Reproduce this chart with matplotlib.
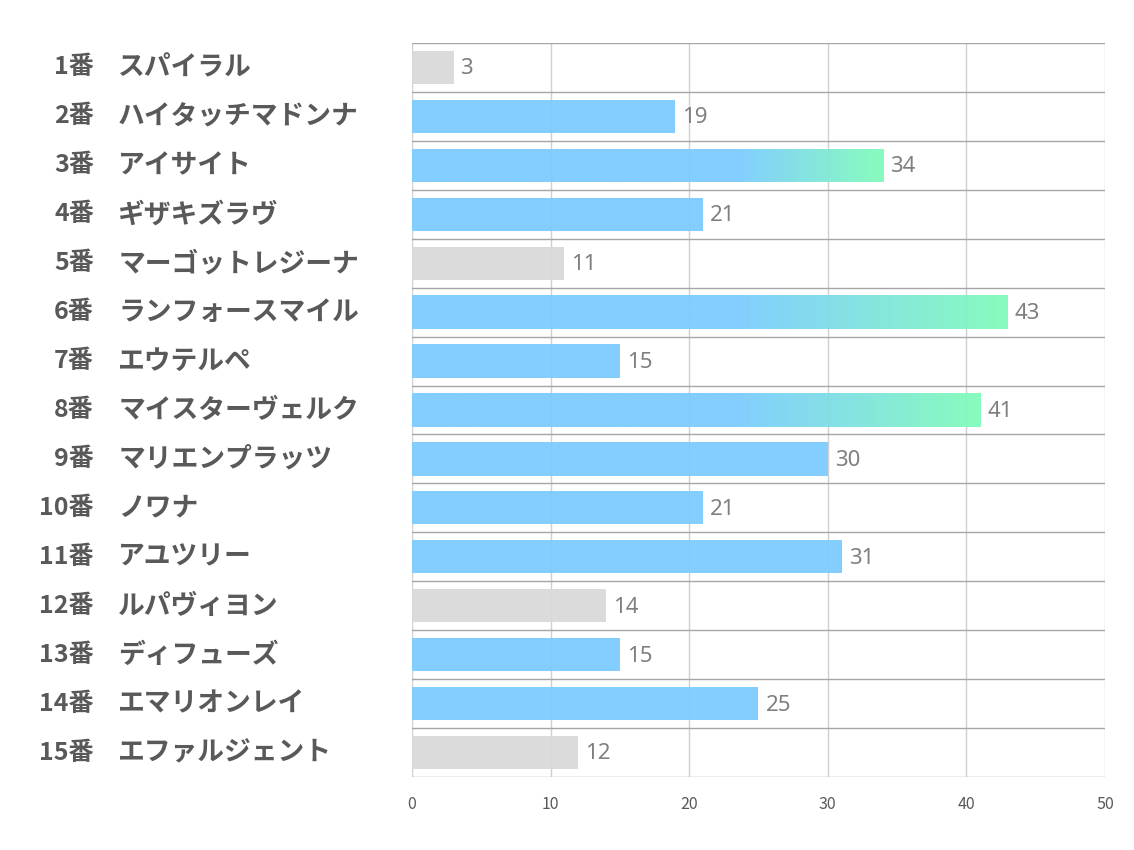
import numpy as np
import matplotlib.pyplot as plt
from matplotlib.colors import LinearSegmentedColormap

plt.rcParams['font.family'] = ['Noto Sans CJK JP', 'DejaVu Sans']

numbers = ['1番', '2番', '3番', '4番', '5番', '6番', '7番', '8番',
           '9番', '10番', '11番', '12番', '13番', '14番', '15番']
names = ['スパイラル', 'ハイタッチマドンナ', 'アイサイト', 'ギザキズラヴ',
         'マーゴットレジーナ', 'ランフォースマイル', 'エウテルペ', 'マイスターヴェルク',
         'マリエンプラッツ', 'ノワナ', 'アユツリー', 'ルパヴィヨン',
         'ディフューズ', 'エマリオンレイ', 'エファルジェント']
values = [3, 19, 34, 21, 11, 43, 15, 41, 30, 21, 31, 14, 15, 25, 12]
kinds = ['gray', 'blue', 'grad', 'blue', 'gray', 'grad', 'blue', 'grad',
         'blue', 'blue', 'blue', 'gray', 'blue', 'blue', 'gray']
xticks = [0, 10, 20, 30, 40, 50]

BLUE = '#7acbff'
GREEN = '#7ffcb9'
GRAY = '#d9d9d9'
grad_start = 23.5  # data x where the green fade begins

fig = plt.figure(figsize=(11.34, 8.5), dpi=100)
ax = fig.add_axes([0.3633, 0.0859, 0.6111, 0.8635])

n = len(values)
ypos = np.arange(n)
bar_h = 0.68
cmap = LinearSegmentedColormap.from_list('bg', [BLUE, GREEN])

for y, v, k in zip(ypos, values, kinds):
    if k == 'gray':
        ax.barh(y, v, height=bar_h, color=GRAY, alpha=0.93, zorder=2)
    elif k == 'blue':
        ax.barh(y, v, height=bar_h, color=BLUE, alpha=0.93, zorder=2)
    else:
        bar = ax.barh(y, v, height=bar_h, color='none', zorder=2)[0]
        xs = np.linspace(0, v, 400)
        t = np.clip((xs - grad_start) / (v - grad_start), 0, 1)
        im = ax.imshow(t[np.newaxis, :], cmap=cmap, vmin=0, vmax=1, aspect='auto',
                       extent=(0, v, y + bar_h / 2, y - bar_h / 2), zorder=2,
                       alpha=0.93, interpolation='bilinear')
        im.set_clip_path(bar)
    ax.text(v + 0.5, y + 0.03, str(v), va='center', ha='left', fontsize=16,
            color='#7f7f7f', family=['Noto Sans', 'DejaVu Sans'])

ax.set_xlim(0, 50)
ax.set_ylim(n - 0.5, -0.5)
ax.set_xticks(xticks)
ax.set_xticklabels([str(t) for t in xticks], fontsize=11.5, color='#595959')
ax.set_yticks([])
ax.tick_params(axis='x', length=0, pad=14)

for x in xticks:
    ax.axvline(x, color='#d0d0d0', lw=1, zorder=1)
for b in np.arange(n + 1) - 0.5:
    ax.axhline(b, color='#a6a6a6', lw=1, zorder=3)
for s in ax.spines.values():
    s.set_visible(False)

for y, num, name in zip(ypos, numbers, names):
    ax.text(-0.459, y, num, transform=ax.get_yaxis_transform(), ha='right',
            va='center', fontsize=18, fontweight='bold', color='#595959')
    ax.text(-0.424, y, name, transform=ax.get_yaxis_transform(), ha='left',
            va='center', fontsize=19.3, fontweight='bold', color='#595959')

fig.savefig('out.png', dpi=100, facecolor='white')
